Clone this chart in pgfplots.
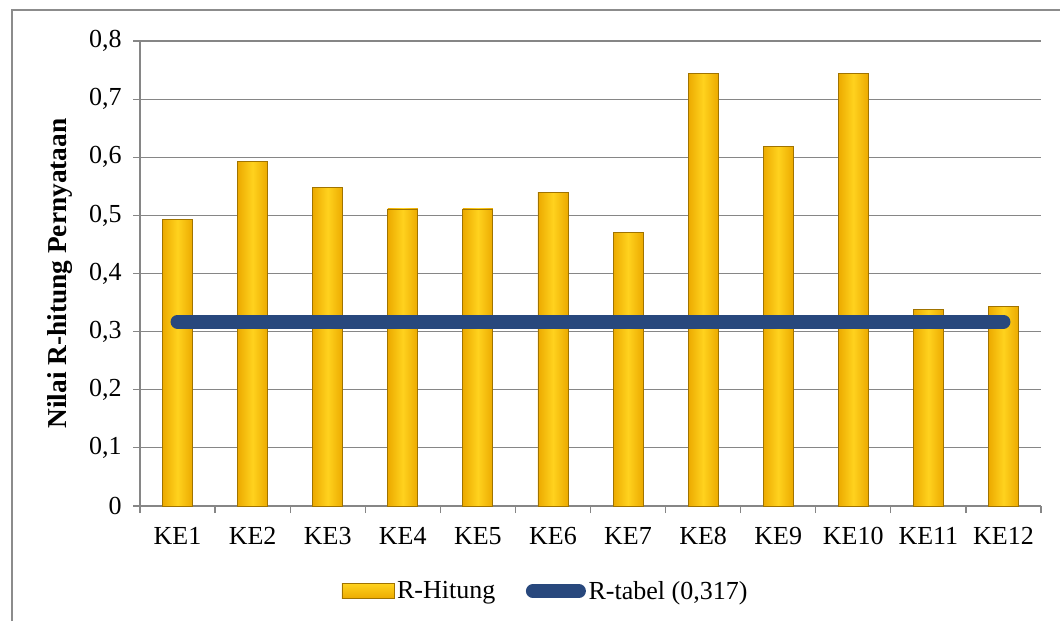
\documentclass[border=0pt]{standalone}
\usepackage{fontspec}
\setmainfont{Liberation Serif}
\usepackage{pgfplots}
\pgfplotsset{compat=1.18}
\definecolor{barmid}{RGB}{255,210,30}
\definecolor{baredge}{RGB}{236,170,0}
\definecolor{barline}{RGB}{160,115,0}
\definecolor{lineblue}{RGB}{40,72,125}
\definecolor{gridgray}{RGB}{134,134,134}
\definecolor{framegray}{RGB}{140,140,140}
\pgfplotsset{kebar/.style={ybar, bar width=22.5pt, bar shift=0pt, draw=barline, line width=0.6pt,
  left color=baredge, right color=baredge, middle color=barmid, forget plot}}

\begin{document}
\begin{tikzpicture}
\path[fill=white] (0,0) rectangle (795.75pt,465.75pt);
\draw[framegray, line width=1pt] (9pt,0pt) -- (9pt,458.25pt) -- (795pt,458.25pt);
\begin{axis}[
  at={(105pt,86.25pt)}, anchor=south west,
  scale only axis, width=675.75pt, height=348.75pt,
  xmin=0.5, xmax=12.5, ymin=0, ymax=0.8,
  axis lines*=left,
  axis line style={-, draw=gridgray, line width=0.9pt},
  every outer x axis line/.append style={-},
  every outer y axis line/.append style={-},
  xtick={1,2,3,4,5,6,7,8,9,10,11,12},
  xticklabels={KE1,KE2,KE3,KE4,KE5,KE6,KE7,KE8,KE9,KE10,KE11,KE12},
  minor xtick={0.5,1.5,2.5,3.5,4.5,5.5,6.5,7.5,8.5,9.5,10.5,11.5,12.5},
  ytick={0,0.1,0.2,0.3,0.4,0.5,0.6,0.7,0.8},
  yticklabels={0,{0,1},{0,2},{0,3},{0,4},{0,5},{0,6},{0,7},{0,8}},
  tick align=outside,
  major x tick style={draw=none},
  major tick length=5.25pt,
  minor tick length=5.25pt,
  tick style={gridgray, line width=0.9pt},
  ymajorgrids,
  major grid style={gridgray, line width=0.9pt},
  tick label style={font=\fontsize{19.5}{22}\selectfont},
  yticklabel style={xshift=-5pt},
  xticklabel style={yshift=-7pt},
  ylabel={Nilai R-hitung Pernyataan},
  ylabel style={at={(rel axis cs:-0.0888,0.5)}, anchor=center, font=\fontsize{20.5}{24}\selectfont\bfseries},
  legend style={at={(rel axis cs:0.219,-0.183)}, anchor=west, draw=none, fill=none,
    legend columns=2, font=\fontsize{19.5}{22}\selectfont,
    /tikz/every even column/.append style={column sep=21pt}},
  legend cell align=left,
]
\addplot[kebar] coordinates {(1,0.493)};
\addplot[kebar] coordinates {(2,0.593)};
\addplot[kebar] coordinates {(3,0.548)};
\addplot[kebar] coordinates {(4,0.511)};
\addplot[kebar] coordinates {(5,0.511)};
\addplot[kebar] coordinates {(6,0.539)};
\addplot[kebar] coordinates {(7,0.470)};
\addplot[kebar] coordinates {(8,0.744)};
\addplot[kebar] coordinates {(9,0.618)};
\addplot[kebar] coordinates {(10,0.744)};
\addplot[kebar] coordinates {(11,0.338)};
\addplot[kebar] coordinates {(12,0.344)};
\addlegendimage{legend image code/.code={\draw[draw=barline, line width=0.6pt, top color=barmid, bottom color=baredge] (0pt,-5.6pt) rectangle (39pt,5.6pt);}}
\addlegendentry{R-Hitung}
\addplot[lineblue, line width=10.5pt, line cap=round, mark=none,
  legend image code/.code={\draw[lineblue, line width=10.5pt, line cap=round] (5.25pt,0pt) -- (39.75pt,0pt);}]
coordinates {(1,0.317)(2,0.317)(3,0.317)(4,0.317)(5,0.317)(6,0.317)(7,0.317)(8,0.317)(9,0.317)(10,0.317)(11,0.317)(12,0.317)};
\addlegendentry{R-tabel (0,317)}
\end{axis}
\end{tikzpicture}
\end{document}
